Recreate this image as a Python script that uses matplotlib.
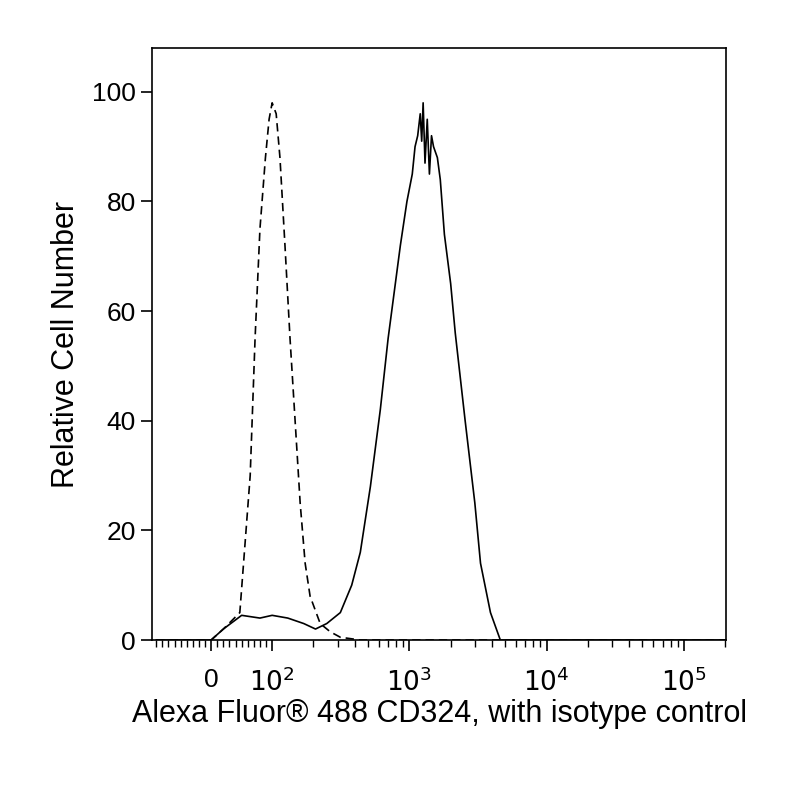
import matplotlib
matplotlib.use("Agg")
import matplotlib.pyplot as plt
import numpy as np

plt.rcParams['font.family'] = ['Liberation Sans', 'DejaVu Sans']

iso_x = [-90, -40, 0, 20, 47, 64, 72, 80, 89, 95, 100, 107, 114, 124, 135, 147, 160, 174, 189, 224, 265, 314, 439, 860, 4600, 200000]
iso_y = [0, 0, 0, 2, 5, 30, 55, 75, 88, 95, 98, 96, 88, 72, 55, 40, 25, 14, 8, 3, 1.5, 0.5, 0, 0, 0, 0]

pos_x = [-90, 0, 20, 50, 80, 100, 130, 170, 207, 250, 314, 380, 439, 520, 614, 700, 860, 960, 1050, 1100, 1150, 1200, 1230, 1260, 1300, 1350, 1400, 1450, 1500, 1600, 1680, 1800, 2000, 2160, 2550, 3000, 3300, 3900, 4600, 200000]
pos_y = [0, 0, 2, 4.5, 4, 4.5, 4, 3, 2, 3, 5, 10, 16, 28, 42, 55, 72, 80, 85, 90, 92, 96, 91, 98, 87, 95, 85, 92, 90, 88, 84, 74, 65, 56, 40, 25, 14, 5, 0, 0]

fig = plt.figure(figsize=(8, 8), dpi=100)
ax = fig.add_axes([0.19, 0.2, 0.7175, 0.74])
ax.plot(pos_x, pos_y, color='black', lw=1.2)
ax.plot(iso_x, iso_y, color='black', lw=1.2, ls=(0, (5, 3)))
ax.set_xscale('symlog', linthresh=100, linscale=0.40)
ax.set_xlim(-97, 2.03e5)
ax.set_ylim(0, 108)

ax.set_xticks([0, 1e2, 1e3, 1e4, 1e5])
ax.set_xticklabels(['0', r'$10^2$', r'$10^3$', r'$10^4$', r'$10^5$'])
minors = list(range(-90, 100, 10))
for d in [100, 1000, 10000, 100000]:
    minors += [d * k for k in range(2, 10)]
minors = [m for m in minors if m != 0 and m < 2.03e5]
ax.set_xticks(minors, minor=True)
ax.set_yticks([0, 20, 40, 60, 80, 100])
ax.tick_params(axis='both', which='major', direction='out', length=8, width=1.2, labelsize=19)
ax.tick_params(axis='x', which='major', pad=12)
ax.tick_params(axis='x', which='minor', direction='out', length=5, width=1)
for s in ax.spines.values():
    s.set_linewidth(1.2)
ax.set_ylabel('Relative Cell Number', fontsize=22, labelpad=8)
ax.set_xlabel('Alexa Fluor® 488 CD324, with isotype control', fontsize=22, labelpad=2)
fig.savefig('out.png', dpi=100)
